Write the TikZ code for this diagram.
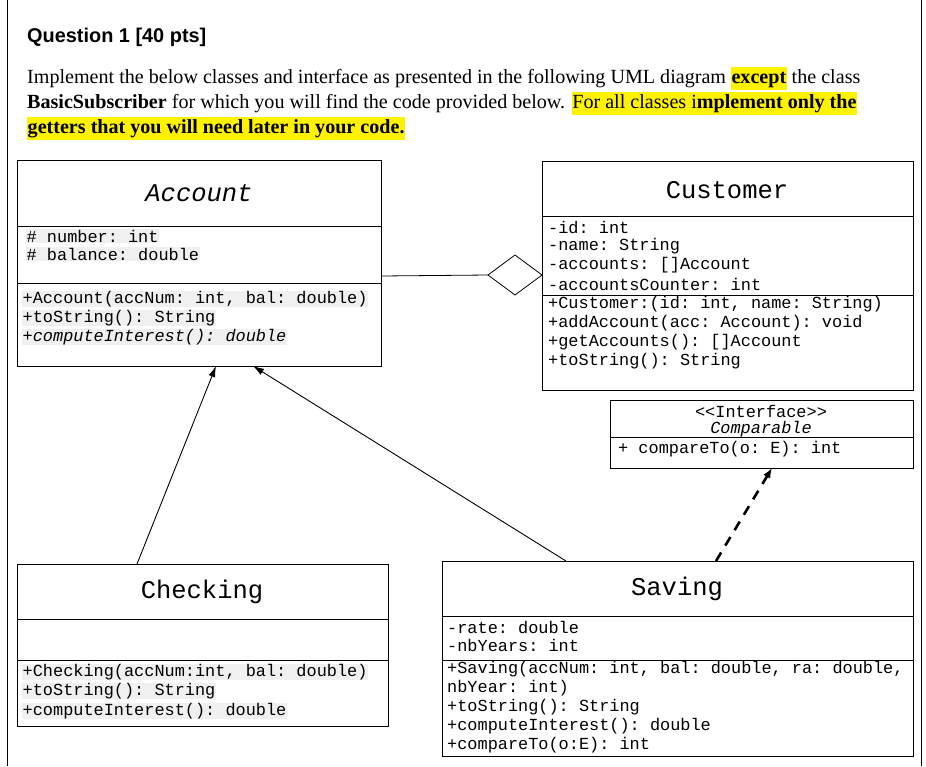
\documentclass[tikz,border=0pt]{standalone}
\usepackage{fontspec}
\setmainfont{Liberation Serif}
\setsansfont{Liberation Sans}
\setmonofont{Liberation Mono}
\usetikzlibrary{arrows.meta}
\newcommand{\hly}[1]{{\setlength{\fboxsep}{0.5pt}\colorbox{yellow}{\strut #1}}}
\newcommand{\hlg}[1]{{\setlength{\fboxsep}{0.5pt}\colorbox{black!6}{#1}}}
\begin{document}
\begin{tikzpicture}[x=1pt,y=-1pt,
  box/.style={draw,line width=0.8pt},
  mono/.style={anchor=west,inner sep=0pt,font=\ttfamily\fontsize{16.9}{18}\selectfont},
  cname/.style={inner sep=0pt,font=\ttfamily\fontsize{25.5}{27}\selectfont},
  para/.style={anchor=base west,inner sep=0pt,font=\fontsize{20.1}{22}\selectfont},
  arr/.style={-{Latex[length=11pt,width=7pt]},line width=0.9pt}]
\useasboundingbox (0,0) rectangle (926,766);
\draw[line width=0.8pt] (7,0) -- (7,766) (921,0) -- (921,766);
\node[anchor=base west,inner sep=0pt,font=\sffamily\bfseries\fontsize{19.9}{22}\selectfont] (q) at (27,42) {Question 1 [40 pts]};
\node[para] (p1) at (27,83) {Implement the below classes and interface as presented in the following UML diagram \hly{\textbf{except}} the class};
\node[para] (p2) at (27,108) {\textbf{BasicSubscriber} for which you will find the code provided below. \hly{For all classes i\textbf{mplement only the}}};
\node[para] (p3) at (27,133) {\hly{\textbf{getters that you will need later in your code.}}};
% Account
\draw[box] (17,160) rectangle (381,366); \draw[box] (17,226) -- (381,226) (17,283) -- (381,283);
\node[cname,font=\ttfamily\itshape\fontsize{25.5}{27}\selectfont] (an) at (199,193) {Account};
\node[mono] (a1) at (26,236) {\hlg{\# number: int}};
\node[mono] (a2) at (26,254) {\hlg{\# balance: double}};
\node[mono] (a3) at (22,299) {\hlg{+Account(accNum: int, bal: double)}};
\node[mono] (a4) at (22,318) {\hlg{+toString(): String}};
\node[mono] (a5) at (22,337) {\hlg{\itshape +computeInterest(): double}};
% Customer
\draw[box] (542,161) rectangle (913,390); \draw[box] (542,216) -- (913,216) (542,295) -- (913,295);
\node[cname] (cn) at (727,190) {Customer};
\foreach \t/\y in {{-id: int}/227,{-name: String}/246,{-accounts: []Account}/265,{-accountsCounter: int}/284,{+Customer:(id: int, name: String)}/304,{+addAccount(acc: Account): void}/323,{+getAccounts(): []Account}/342,{+toString(): String}/361}
  \node[mono] at (548,\y) {\t};
% diamond
\coordinate (dl) at (488,275);
\draw[line width=0.8pt] (381,276) -- (dl);
\draw[line width=0.8pt,fill=white] (dl) -- (515,255) -- (542,275) -- (515,295) -- cycle;
% Comparable
\draw[box] (610,400) rectangle (913,468); \draw[box] (610,437) -- (913,437);
\node[mono,anchor=center] (i1) at (761,411) {<<Interface>>};
\node[mono,anchor=center] (i2) at (761,429) {\itshape Comparable};
\node[mono] (i3) at (618,449) {+ compareTo(o: E): int};
% Checking
\draw[box] (17,564) rectangle (388,726); \draw[box] (17,619) -- (388,619) (17,660) -- (388,660);
\node[cname] (chn) at (202,592) {Checking};
\node[mono] at (22,672) {\hlg{+Checking(accNum:int, bal: double)}};
\node[mono] at (22,691) {\hlg{+toString(): String}};
\node[mono] at (22,711) {\hlg{+computeInterest(): double}};
% Saving
\draw[box] (442,561) rectangle (913,756); \draw[box] (442,616) -- (913,616) (442,660) -- (913,660);
\node[cname] (sn) at (677,589) {Saving};
\foreach \t/\y in {{-rate: double}/627,{-nbYears: int}/645,{+Saving(accNum: int, bal: double, ra: double,}/669,{nbYear: int)}/688,{+toString(): String}/707,{+computeInterest(): double}/726,{+compareTo(o:E): int}/745}
  \node[mono] at (447,\y) {\t};
% arrows
\coordinate (c1) at (137,564); \coordinate (c2) at (216,366);
\coordinate (s1) at (566,561); \coordinate (s2) at (253,366);
\coordinate (d1) at (716,561); \coordinate (d2) at (772,468);
\draw[arr] (c1) -- (c2);
\draw[arr] (s1) -- (s2);
\draw[arr,dash pattern=on 10pt off 8pt,line width=2.6pt,-{Latex[length=10pt,width=8pt]}] (d1) -- (d2);
\end{tikzpicture}
\end{document}
